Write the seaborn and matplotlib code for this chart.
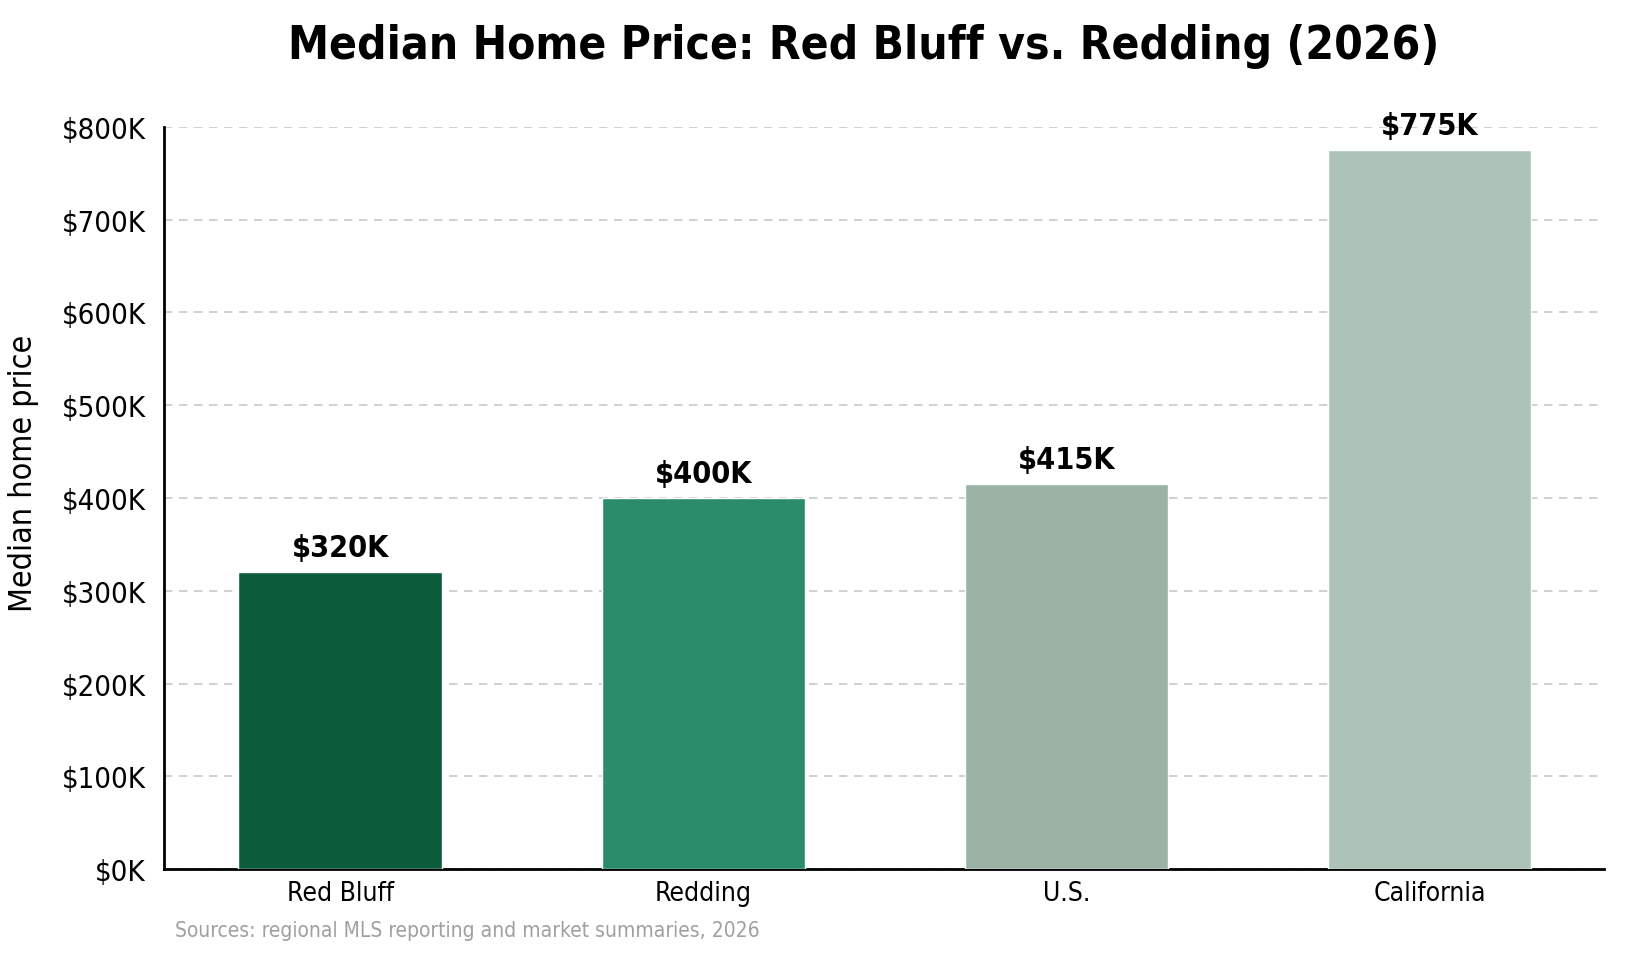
import numpy as np
import pandas as pd
import seaborn as sns
from matplotlib import pyplot as plt
from matplotlib.ticker import FuncFormatter

# data
places = ["Red Bluff", "Redding", "U.S.", "California"]
median_price = [320, 400, 415, 775]  # thousands of dollars
bar_colors = ["#0b5c3b", "#2b8c6b", "#9bb3a5", "#adc3b8"]

df = pd.DataFrame({"place": places, "price": median_price})

sns.set_style("white")
plt.rcParams["font.family"] = ["DejaVu Sans"]
plt.rcParams["font.stretch"] = "condensed"
plt.rcParams["text.color"] = "black"
plt.rcParams["xtick.color"] = "black"
plt.rcParams["ytick.color"] = "black"
plt.rcParams["axes.labelcolor"] = "black"

fig = plt.figure(figsize=(16.35, 9.62), dpi=100)
ax = fig.add_axes([0.1003, 0.0956, 0.8807, 0.7714])

sns.barplot(data=df, x="place", y="price", hue="place", palette=bar_colors,
            width=0.56, saturation=1, legend=False, ax=ax, zorder=3)

for i, v in enumerate(median_price):
    ax.text(i, v + 11, f"${v}K", ha="center", va="bottom",
            fontsize=22, fontweight="bold", zorder=4)

ax.set_ylim(0, 800)
ax.set_xlim(-0.485, 3.48)
ax.set_yticks(np.arange(0, 801, 100))
ax.yaxis.set_major_formatter(FuncFormatter(lambda v, p: f"${int(v)}K"))
ax.grid(axis="y", linestyle=(0, (5, 4)), color="#c8c8c8", linewidth=1.2, zorder=0)
ax.tick_params(axis="both", length=0)
ax.tick_params(axis="y", labelsize=21, pad=13)
ax.tick_params(axis="x", labelsize=19, pad=8)

for s in ["top", "right"]:
    ax.spines[s].set_visible(False)
for s in ["left", "bottom"]:
    ax.spines[s].set_color("black")
    ax.spines[s].set_linewidth(2)

ax.set_xlabel("")
ax.set_ylabel("Median home price", fontsize=23)
ax.yaxis.set_label_coords(-0.087, 0.535)

fig.suptitle("Median Home Price: Red Bluff vs. Redding (2026)",
             fontsize=33, fontweight="bold", x=0.528, y=0.975)
fig.text(0.107, 0.026, "Sources: regional MLS reporting and market summaries, 2026",
         fontsize=15, color="#a0a0a0")

fig.savefig("out.png", dpi=100)
